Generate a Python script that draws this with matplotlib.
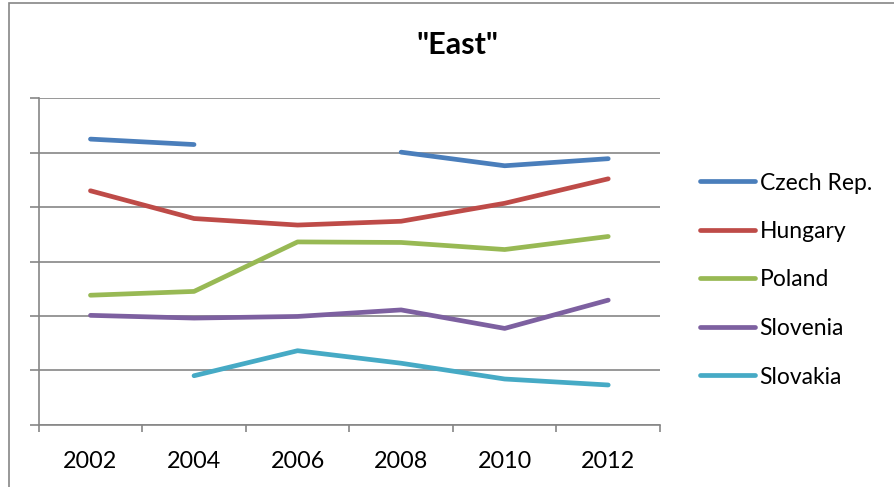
import numpy as np
import matplotlib.pyplot as plt
from matplotlib.patches import Rectangle

years = ['2002', '2004', '2006', '2008', '2010', '2012']
czech = [5.25, 5.15, np.nan, 5.01, 4.76, 4.89]
hungary = [4.30, 3.79, 3.67, 3.74, 4.07, 4.52]
poland = [2.38, 2.45, 3.36, 3.35, 3.22, 3.46]
slovenia = [2.01, 1.96, 1.99, 2.11, 1.77, 2.29]
slovakia = [np.nan, 0.90, 1.36, 1.13, 0.84, 0.73]

series = [('Czech Rep.', czech, '#4A7EBB'),
          ('Hungary', hungary, '#BE4B48'),
          ('Poland', poland, '#98B954'),
          ('Slovenia', slovenia, '#7D60A0'),
          ('Slovakia', slovakia, '#46AAC5')]

plt.rcParams['font.family'] = ['Lato', 'DejaVu Sans']
grey = '#868686'

fig = plt.figure(figsize=(8.95, 4.87), dpi=100)
fig.patches.append(Rectangle((9/895, -0.1), 1.2, 1 - 3/487 + 0.1, transform=fig.transFigure,
                             fill=False, edgecolor=grey, linewidth=1.2))
ax = fig.add_axes([38.7/895, 1 - 424.7/487, (660 - 38.7)/895, (424.7 - 98.3)/487])

x = np.arange(len(years))
for name, vals, col in series:
    ax.plot(x, vals, color=col, linewidth=3.4, solid_capstyle='round',
            solid_joinstyle='round', label=name)

ax.set_xlim(-0.5, len(years) - 0.5)
ax.set_ylim(0, 6)
ax.set_yticks(np.arange(0, 7))
ax.set_yticklabels([])
ax.yaxis.grid(True, color=grey, linewidth=1.2)
ax.set_axisbelow(True)
ax.tick_params(axis='y', direction='out', length=6.3, color=grey, width=1.2)

ax.set_xticks(x)
ax.set_xticklabels(years, fontsize=16.8)
ax.tick_params(axis='x', which='major', length=0, pad=19)
ax.set_xticks(np.arange(-0.5, len(years)), minor=True)
ax.tick_params(axis='x', which='minor', direction='out', length=5, color=grey, width=1.2)

for s in ['top', 'right']:
    ax.spines[s].set_visible(False)
for s in ['left', 'bottom']:
    ax.spines[s].set_color(grey)
    ax.spines[s].set_linewidth(1.2)

fig.text(457/895, 1 - 45/487, '"East"', ha='center', va='center',
         fontsize=22, fontweight='bold')

fig.legend(loc='center left', bbox_to_anchor=(700/895, 1 - 280/487), frameon=False,
           fontsize=16.5, handlelength=2.4, handletextpad=0.2, labelspacing=1.2,
           borderpad=0, borderaxespad=0)

fig.savefig('out.png', dpi=100)
